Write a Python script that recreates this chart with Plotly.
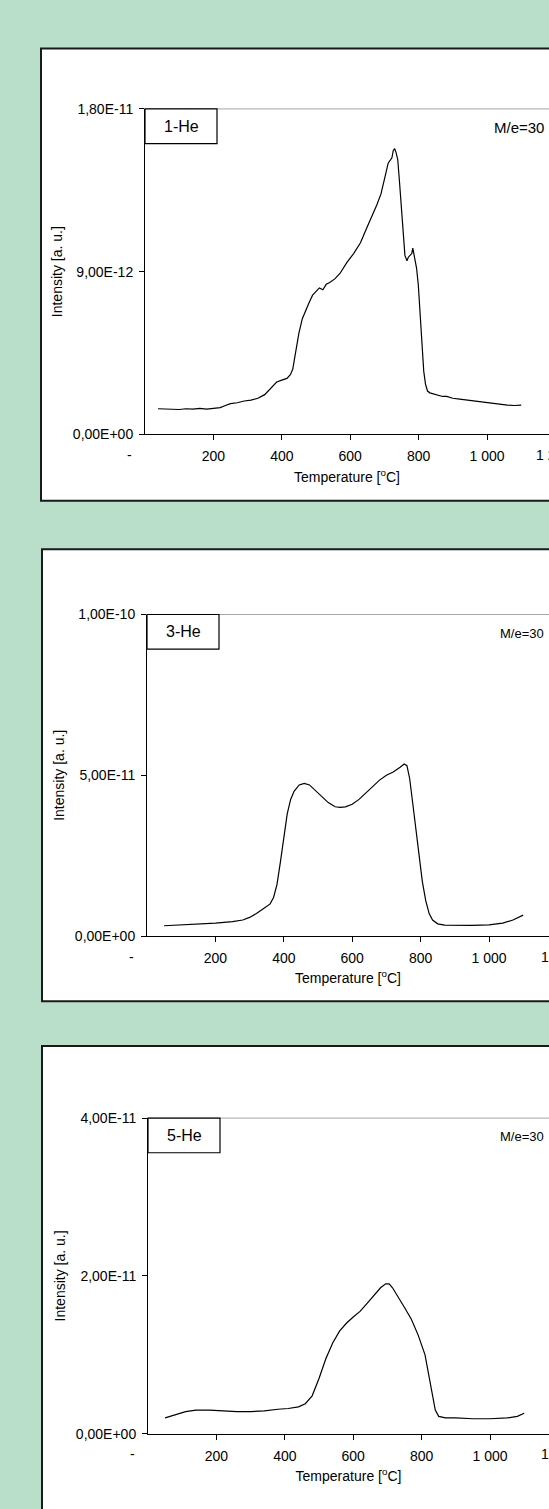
import plotly.graph_objects as go

W, H = 549, 1509

# ---------------- data ----------------
# Panel 1: 1-He, M/e=30  (intensity in units of 1e-12)
T1 = [38, 60, 80, 100, 120, 140, 160, 180, 200, 220, 235, 250, 270, 290, 310, 330, 350, 370, 385, 400,
      415, 425, 432, 440, 450, 460, 470, 480, 490, 500, 510, 520, 530, 540, 555, 570, 590, 610, 630, 648,
      665, 678, 690, 697, 705, 711, 717, 722, 726, 730, 734, 739, 744, 750, 755, 760, 766, 770, 775, 780,
      783, 788, 794, 799, 805, 810, 815, 820, 826, 833, 850, 870, 882, 900, 920, 940, 960, 980, 1000, 1020,
      1040, 1060, 1080, 1090, 1100]
I1 = [1.42, 1.40, 1.42, 1.38, 1.42, 1.40, 1.44, 1.40, 1.44, 1.48, 1.60, 1.70, 1.75, 1.85, 1.90, 2.00, 2.20, 2.60, 2.90, 3.00,
      3.10, 3.30, 3.60, 4.50, 5.60, 6.40, 6.90, 7.30, 7.70, 7.90, 8.10, 8.00, 8.30, 8.40, 8.60, 8.90, 9.50, 10.0, 10.6, 11.4,
      12.1, 12.7, 13.3, 13.8, 14.5, 15.0, 15.2, 15.3, 15.7, 15.8, 15.6, 15.2, 14.0, 12.5, 11.2, 9.9, 9.6, 9.8, 9.9, 10.0,
      10.3, 9.8, 9.2, 8.3, 6.5, 4.8, 3.5, 2.8, 2.4, 2.3, 2.2, 2.1, 2.1, 2.0, 1.95, 1.9, 1.85, 1.8, 1.75, 1.7,
      1.65, 1.62, 1.60, 1.60, 1.62]

# Panel 2: 3-He, M/e=30  (intensity in units of 1e-11)
T2 = [50, 100, 150, 200, 250, 280, 300, 320, 340, 360, 370, 380, 390, 400, 410, 420, 430, 445, 460, 475,
      490, 510, 530, 550, 565, 580, 600, 620, 640, 660, 680, 700, 720, 740, 752, 760, 768, 775, 785, 795,
      805, 815, 825, 835, 850, 870, 900, 950, 1000, 1040, 1070, 1090, 1100]
I2 = [0.32, 0.34, 0.37, 0.40, 0.45, 0.50, 0.58, 0.70, 0.85, 1.00, 1.20, 1.60, 2.30, 3.10, 3.80, 4.25, 4.50, 4.70, 4.75, 4.70,
      4.55, 4.35, 4.15, 4.02, 4.00, 4.02, 4.10, 4.25, 4.45, 4.65, 4.85, 5.00, 5.10, 5.25, 5.35, 5.30, 4.90, 4.30, 3.40, 2.50,
      1.70, 1.10, 0.70, 0.50, 0.38, 0.34, 0.33, 0.33, 0.35, 0.40, 0.50, 0.60, 0.65]

# Panel 3: 5-He, M/e=30  (intensity in units of 1e-11)
T3 = [50, 80, 110, 140, 180, 220, 260, 300, 340, 380, 410, 440, 460, 480, 500, 520, 540, 560, 580, 600,
      620, 640, 660, 680, 695, 705, 715, 730, 750, 770, 790, 810, 825, 840, 850, 870, 900, 950, 1000, 1050,
      1080, 1100]
I3 = [0.20, 0.24, 0.28, 0.30, 0.30, 0.29, 0.28, 0.28, 0.29, 0.31, 0.32, 0.34, 0.38, 0.48, 0.70, 0.95, 1.15, 1.30, 1.40, 1.48,
      1.55, 1.65, 1.75, 1.85, 1.90, 1.90, 1.85, 1.75, 1.60, 1.45, 1.25, 1.00, 0.65, 0.30, 0.22, 0.20, 0.20, 0.19, 0.19, 0.20,
      0.22, 0.26]

X_TICKS = [200, 400, 600, 800, 1000]
X_TICKTEXT = ["200", "400", "600", "800", "1 000"]
ZERO_LABEL = "-"
EDGE_LABEL = "1 200"

LABELS = ["1-He", "3-He", "5-He"]
MASS = "M/e=30"
Y_TICKVALS = [[0, 9e-12, 1.8e-11], [0, 5e-11, 1e-10], [0, 2e-11, 4e-11]]
Y_TICKTEXT = [["0,00E+00", "9,00E-12", "1,80E-11"],
              ["0,00E+00", "5,00E-11", "1,00E-10"],
              ["0,00E+00", "2,00E-11", "4,00E-11"]]
SERIES = [(T1, I1, 1e-12), (T2, I2, 1e-11), (T3, I3, 1e-11)]

# ---------------- layout geometry (pixels) ----------------
PANELS = [
    dict(box=(41, 41, 570, 498), left=145, top=102, bottom=431, mass_size=15, edge=534),
    dict(box=(42, 547, 570, 1004), left=147, top=613, bottom=938, mass_size=13, edge=539),
    dict(box=(42, 1049, 570, 1540), left=148, top=1122, bottom=1441, mass_size=13, edge=539),
]
PX_PER_DEG = 0.342
GREEN = "#b9dfca"
FONT = "Liberation Sans, Arial, sans-serif"


def fx(x):
    return x / W


def fy(y):
    return 1 - y / H


fig = go.Figure()
shapes = []
annotations = []
layout_axes = {}

for i, (p, (T, I, scale)) in enumerate(zip(PANELS, SERIES)):
    n = "" if i == 0 else str(i + 1)
    xa, ya = "x" + n, "y" + n
    x0, y0, x1, y1 = p["box"]
    shapes.append(dict(type="rect", xref="paper", yref="paper", x0=fx(x0), x1=fx(x1), y0=fy(y1), y1=fy(y0),
                       line=dict(color="#1a1a1a", width=2), fillcolor="white", layer="below"))
    xmax = (W - p["left"]) / PX_PER_DEG
    fig.add_trace(go.Scatter(x=T, y=[v * scale for v in I], mode="lines", xaxis=xa, yaxis=ya,
                             line=dict(color="black", width=1.2), showlegend=False, hoverinfo="skip"))
    layout_axes["xaxis" + n] = dict(
        domain=[fx(p["left"]), 1.0], range=[0, xmax], anchor=ya,
        tickmode="array", tickvals=X_TICKS, ticktext=X_TICKTEXT,
        showline=True, linecolor="black", linewidth=1, ticks="outside", ticklen=5, tickcolor="black",
        showgrid=False, zeroline=False, tickfont=dict(family=FONT, size=14, color="black"),
        ticklabelstandoff=4,
        title=dict(text="Temperature [<sup>o</sup>C]", font=dict(family=FONT, size=14, color="black"), standoff=8),
    )
    layout_axes["yaxis" + n] = dict(
        domain=[fy(p["bottom"]), fy(p["top"])], range=[0, Y_TICKVALS[i][-1]], anchor=xa,
        tickmode="array", tickvals=Y_TICKVALS[i], ticktext=Y_TICKTEXT[i],
        showline=True, linecolor="black", linewidth=1, ticks="outside", ticklen=5, tickcolor="black",
        showgrid=False, zeroline=False, tickfont=dict(family=FONT, size=14, color="black"),
        ticklabelstandoff=3,
        title=dict(text="Intensity [a. u.]", font=dict(family=FONT, size=14, color="black"), standoff=6),
    )
    # gray plot-area top border
    shapes.append(dict(type="line", xref="paper", yref="paper", x0=fx(p["left"]), x1=1.0,
                       y0=fy(p["top"]), y1=fy(p["top"]), line=dict(color="#a6a6a6", width=1)))
    # label box
    bx0, by0, bx1, by1 = p["left"], p["top"], p["left"] + 72, p["top"] + 35
    shapes.append(dict(type="rect", xref="paper", yref="paper", x0=fx(bx0), x1=fx(bx1), y0=fy(by1), y1=fy(by0),
                       line=dict(color="black", width=1.2), fillcolor="white"))
    annotations.append(dict(xref="paper", yref="paper", x=fx((bx0 + bx1) / 2), y=fy((by0 + by1) / 2),
                            text=LABELS[i], showarrow=False, xanchor="center", yanchor="middle",
                            font=dict(family=FONT, size=16, color="black")))
    annotations.append(dict(xref="paper", yref="paper", x=fx(546), y=fy(p["top"] + 19), text=MASS,
                            showarrow=False, xanchor="right", yanchor="middle",
                            font=dict(family=FONT, size=p["mass_size"], color="black")))
    # zero label of the temperature axis, drawn left of the axis origin as in the source
    annotations.append(dict(xref="paper", yref="paper", x=fx(p["left"] - 16), y=fy(p["bottom"] + 21),
                            text=ZERO_LABEL, showarrow=False, xanchor="center", yanchor="middle",
                            font=dict(family=FONT, size=14, color="black")))
    # 1200 tick label, cut by the right edge of the picture as in the source
    annotations.append(dict(xref="paper", yref="paper", x=1.0, y=fy(p["bottom"] + 21),
                            text=EDGE_LABEL, showarrow=False, xanchor="left", yanchor="middle",
                            xshift=-(W - p["edge"]),
                            font=dict(family=FONT, size=14, color="black")))

fig.update_layout(
    width=W, height=H, margin=dict(l=0, r=0, t=0, b=0),
    paper_bgcolor=GREEN, plot_bgcolor="rgba(0,0,0,0)",
    shapes=shapes, annotations=annotations, showlegend=False,
    **layout_axes,
)

fig.write_html("out.html")
